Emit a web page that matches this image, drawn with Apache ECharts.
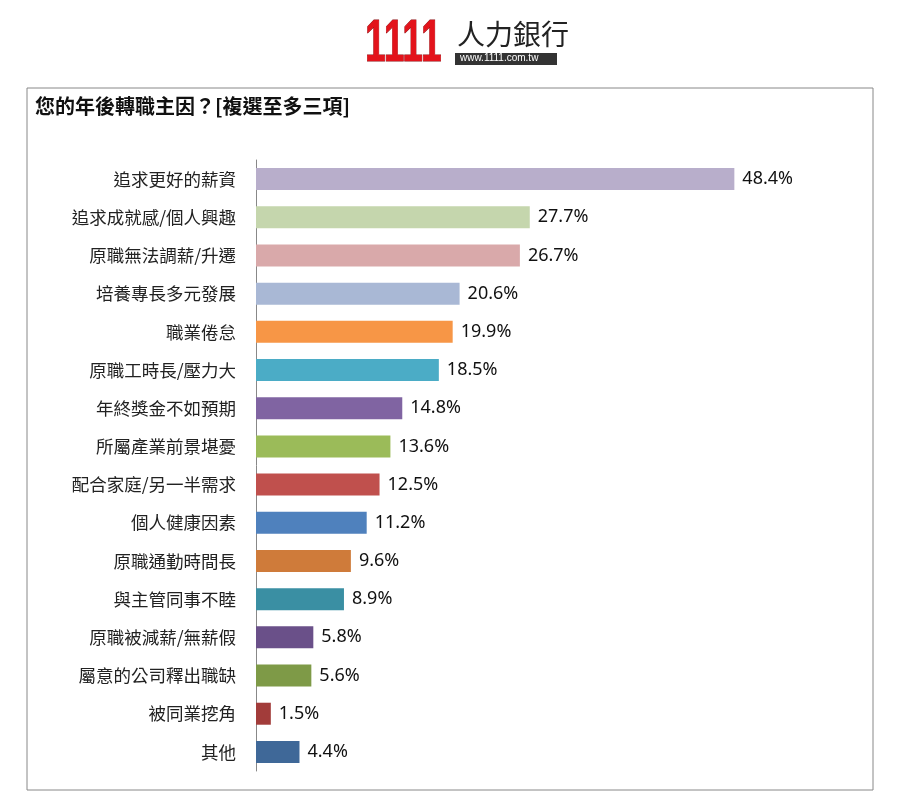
<!DOCTYPE html>
<html><head><meta charset="utf-8">
<script src="https://cdn.jsdelivr.net/npm/echarts@6/dist/echarts.min.js"></script>
<style>body{margin:0;background:#fff}#main{width:911px;height:798px}</style>
</head><body><div id="main"></div>
<script>
// 資料
var categories = ['追求更好的薪資','追求成就感/個人興趣','原職無法調薪/升遷','培養專長多元發展','職業倦怠','原職工時長/壓力大','年終獎金不如預期','所屬產業前景堪憂','配合家庭/另一半需求','個人健康因素','原職通勤時間長','與主管同事不睦','原職被減薪/無薪假','屬意的公司釋出職缺','被同業挖角','其他'];
var values = [48.4,27.7,26.7,20.6,19.9,18.5,14.8,13.6,12.5,11.2,9.6,8.9,5.8,5.6,1.5,4.4];
var colors = ['#b8aecb','#c5d6ad','#d9a9aa','#a9b8d5','#f79646','#4bacc6','#8064a2','#9bbb59','#c0504d','#4f81bd','#cf7b3a','#3a8fa3','#6a5089','#7e9a47','#a23c3a','#3f6898'];

var font = '"Noto Sans CJK TC", sans-serif';
var chart = echarts.init(document.getElementById('main'));
var option = {
  animation: false,
  grid: {left: 256, top: 160, width: 593, height: 611},
  xAxis: {type: 'value', min: 0, max: 60, show: false},
  yAxis: {
    type: 'category', inverse: true, data: categories,
    axisLine: {lineStyle: {color: '#888'}}, axisTick: {show: false},
    axisLabel: {color: '#222', fontSize: 17.5, fontFamily: font, margin: 20}
  },
  series: [{
    type: 'bar', barWidth: 22,
    data: values.map(function(v, i){ return {value: v, itemStyle: {color: colors[i]}}; }),
    label: {show: true, position: 'right', distance: 8, color: '#111', fontSize: 18,
      fontFamily: 'Noto Sans, sans-serif', formatter: function(p){ return p.value.toFixed(1) + '%'; }}
  }],
  graphic: [
    {type: 'rect', shape: {x: 27, y: 88, width: 846, height: 702}, style: {fill: 'none', stroke: '#888', lineWidth: 1}},
    {type: 'text', left: 35, top: 96, style: {text: '您的年後轉職主因？[複選至多三項]', font: 'bold 20px ' + font, fill: '#111'}},
    {type: 'rect', shape: {x: 455, y: 53, width: 102, height: 12}, style: {fill: '#333'}},
    {type: 'text', left: 460, top: 53, style: {text: 'www.1111.com.tw', font: '10px Arial', fill: '#fff'}},
    {type: 'text', left: 457, top: 20, style: {text: '人力銀行', font: '28px ' + font, fill: '#222'}},
    {type: 'text', x: 365, y: 14, scaleX: 0.62, style: {text: '1111', font: 'bold 60px "Liberation Sans", Arial', fill: '#e3131b', stroke: '#8a0a0e', lineWidth: 1}}
  ]
};
chart.setOption(option);
</script></body></html>
